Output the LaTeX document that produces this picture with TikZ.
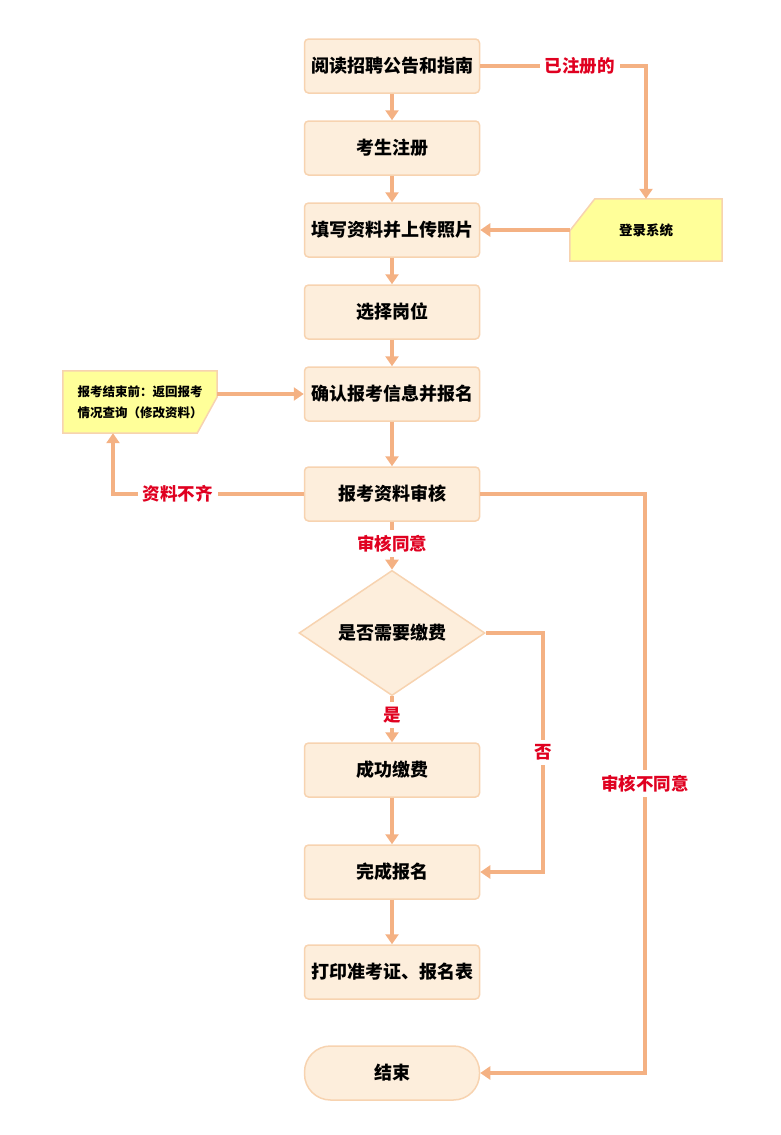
\documentclass[tikz,border=0pt]{standalone}
\usepackage{fontspec}
\setmainfont{Noto Sans CJK SC}
\usetikzlibrary{arrows.meta,shapes.geometric,backgrounds}
\definecolor{boxfill}{HTML}{FDEEDC}
\definecolor{boxline}{HTML}{F7D3B0}
\definecolor{arrcol}{HTML}{F4B183}
\definecolor{notefill}{HTML}{FFFF99}
\definecolor{lblred}{HTML}{E00020}
\begin{document}
\begin{tikzpicture}[x=1pt,y=-1pt,
  box/.style={draw=boxline, line width=1.5pt, fill=boxfill, rounded corners=4pt, minimum width=175pt, minimum height=54pt, font=\fontsize{18}{21}\selectfont\bfseries},
  notetxt/.style={inner sep=0pt, align=center, font=\fontsize{12.5}{21}\selectfont\bfseries},
  notebox/.style={draw=boxline, line width=1.5pt, fill=notefill},
  arr/.style={draw=arrcol, line width=3.5pt, -{Triangle[width=13pt,length=10pt]}},
  lbl/.style={fill=white, text=lblred, inner sep=5pt, font=\fontsize{17.5}{20}\selectfont\bfseries}]
\useasboundingbox (0,0) rectangle (780,1135);
% main column
\node[box] (read) at (392,66) {阅读招聘公告和指南};
\node[box] (reg) at (392,148) {考生注册};
\node[box] (fillin) at (392,230) {填写资料并上传照片};
\node[box] (pick) at (392,312) {选择岗位};
\node[box] (confirm) at (392,394) {确认报考信息并报名};
\node[box] (check) at (392,494) {报考资料审核};
\node[box, diamond, rounded corners=0pt, minimum width=186pt, minimum height=98pt, inner sep=0pt] (needfee) at (392,633) {是否需要缴费};
\node[box] (pay) at (392,770) {成功缴费};
\node[box] (done) at (392,872) {完成报名};
\node[box] (print) at (392,972) {打印准考证、报名表};
\node[box, rounded corners=26pt] (finish) at (392,1073) {结束};
% side notes
\node[notetxt, minimum width=152pt, minimum height=62pt, font=\fontsize{13.5}{16}\selectfont\bfseries] (login) at (646,230) {登录系统};
\node[notetxt, minimum width=154pt, minimum height=62pt] (back) at (140,402) {报考结束前：返回报考\\情况查询（修改资料）};
\begin{scope}[on background layer]
\draw[notebox] ([xshift=25pt]login.north west) -- (login.north east) -- (login.south east) -- (login.south west) -- ([yshift=-32pt]login.north west) -- cycle;
\draw[notebox] (back.north west) -- (back.north east) -- ([yshift=-26pt]back.north east) -- ([xshift=-20pt]back.south east) -- (back.south west) -- cycle;
\end{scope}
\coordinate (rejc) at (645,494);
\coordinate (noc) at (543,633);
% connectors
\draw[arr] (read) -- (reg);
\draw[arr] (reg) -- (fillin);
\draw[arr] (fillin) -- (pick);
\draw[arr] (pick) -- (confirm);
\draw[arr] (confirm) -- (check);
\draw[arr] (check) -- node[lbl, pos=0.45]{审核同意} (needfee);
\draw[arr] (needfee) -- node[lbl, pos=0.4]{是} (pay);
\draw[arr] (pay) -- (done);
\draw[arr] (done) -- (print);
\draw[arr] (read.east) -| node[lbl, pos=0.3]{已注册的} (login.north);
\draw[arr] (login.west) -- (fillin.east);
\draw[arr] (back.east |- confirm.west) -- (confirm.west);
\draw[arr] (check.west) -| node[lbl, pos=0.33]{资料不齐} ([xshift=-27pt]back.south);
\draw[arr] (check.east) -- (rejc) |- node[lbl, pos=0.25]{审核不同意} (finish.east);
\draw[arr] (needfee.east) -- (noc) |- node[lbl, pos=0.25]{否} (done.east);
\end{tikzpicture}
\end{document}
